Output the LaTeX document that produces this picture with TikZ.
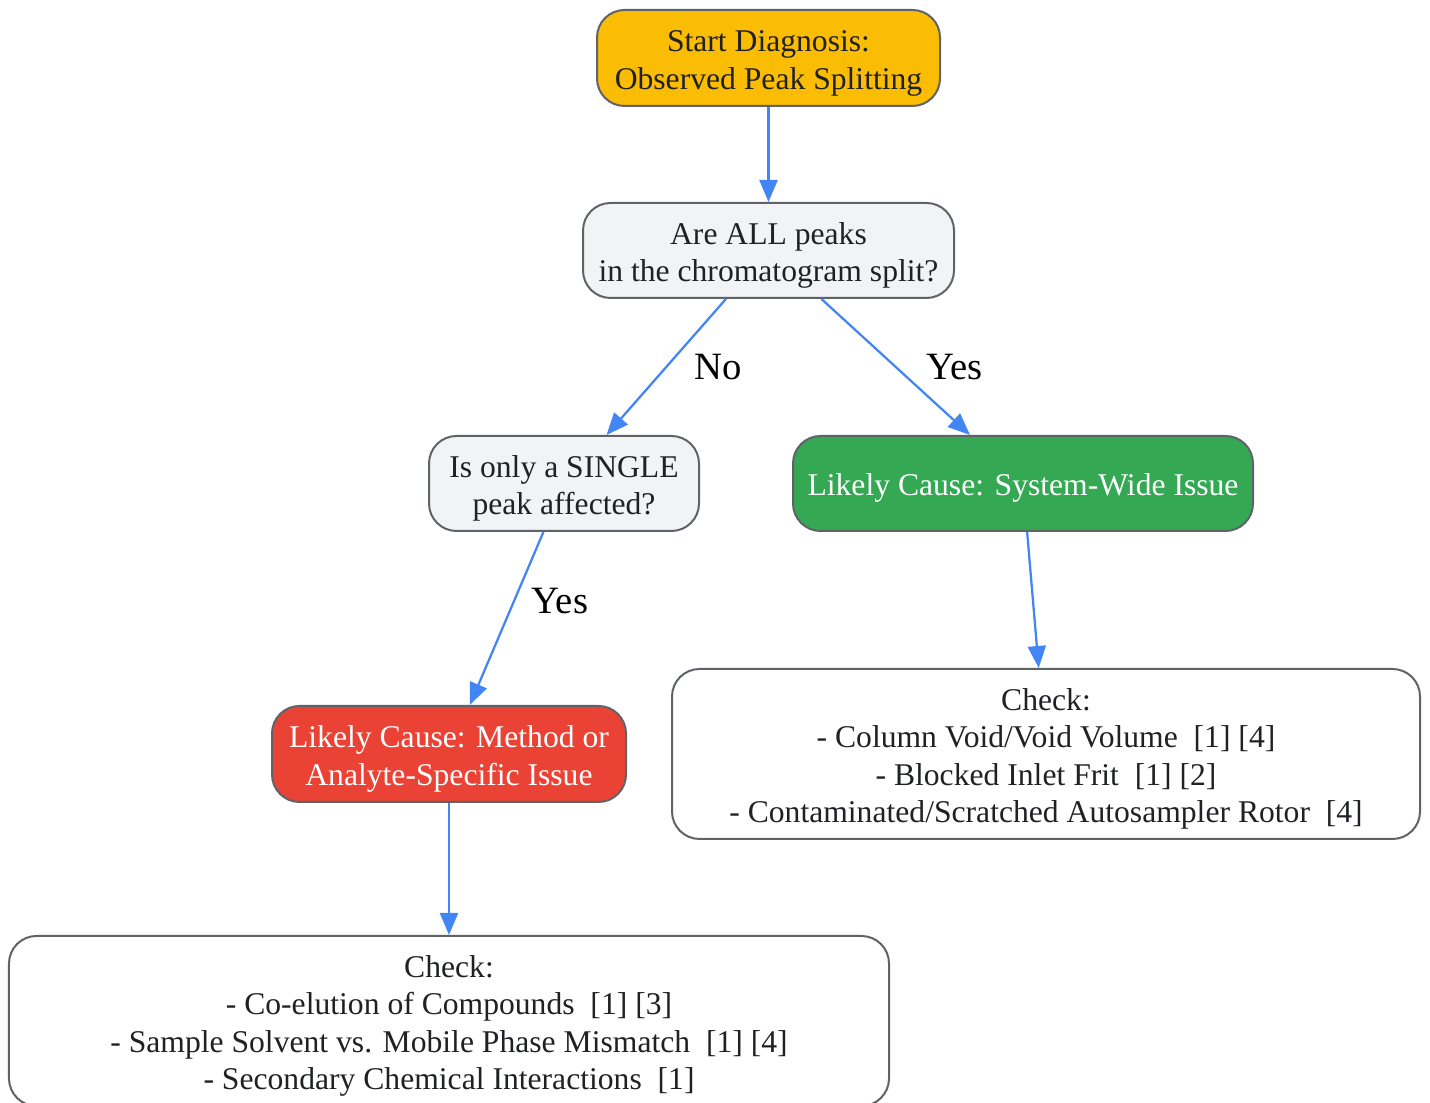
\documentclass[tikz,border=0pt]{standalone}
\usepackage{fontspec}
\setmainfont{Liberation Serif}
\usepackage{tikz}
\usetikzlibrary{positioning,arrows.meta}

\definecolor{startfill}{HTML}{FBBC04}
\definecolor{askfill}{HTML}{F1F3F4}
\definecolor{systemfill}{HTML}{34A853}
\definecolor{methodfill}{HTML}{EA4335}
\definecolor{boxline}{HTML}{5F6368}
\definecolor{textdark}{HTML}{202124}
\definecolor{arrowblue}{HTML}{4285F4}

% lines of a node, set a little lower than TeX would centre them
\newcommand{\nodelines}[1]{\raisebox{-2.8pt}[\height][\depth]{\begin{tabular}{@{}c@{}}#1\end{tabular}}}

\begin{document}
\begin{tikzpicture}[basenode/.style={rectangle, rounded corners=0.55cm, draw=boxline, line width=0.04cm, align=center, text=textdark, font=\fontsize{18}{21.4}\selectfont},
        startnode/.style={basenode, fill=startfill, minimum width=6.86cm, minimum height=1.92cm},
        asknode/.style={basenode, fill=askfill, minimum height=1.9cm},
        systemnode/.style={basenode, fill=systemfill, text=white, minimum width=9.2cm, minimum height=1.9cm},
        methodnode/.style={basenode, fill=methodfill, text=white, minimum width=7.08cm, minimum height=1.92cm},
        checknode/.style={basenode, fill=white, minimum height=3.4cm},
        arrowline/.style={draw=arrowblue, line width=0.045cm, -{Triangle[length=0.44cm, width=0.36cm]}},
        answer/.style={font=\fontsize{22}{26}\selectfont, text=black}]

        \useasboundingbox (0,0) rectangle (28.6,22.06);

        \node[startnode] (1) at (15.37,20.90) {\nodelines{Start Diagnosis:\\Observed Peak Splitting}};
        \node[asknode, minimum width=7.42cm] (2) [below=1.90cm of 1] {\nodelines{Are ALL peaks\\in the chromatogram split?}};
        \node[asknode, minimum width=5.4cm] (3) [below=2.72cm of 2, xshift=-4.09cm] {\nodelines{Is only a SINGLE\\peak affected?}};
        \node[systemnode] (4) [below=2.72cm of 2, xshift=5.09cm] {\nodelines{Likely Cause: System-Wide Issue}};
        \node[methodnode] (5) [below=3.46cm of 3, xshift=-2.3cm] {\nodelines{Likely Cause: Method or\\Analyte-Specific Issue}};
        \node[checknode, minimum width=14.96cm] (6) [below=2.72cm of 4, xshift=0.46cm] {\nodelines{Check:\\- Column Void/Void Volume~ [1] [4]\\- Blocked Inlet Frit~ [1] [2]\\- Contaminated/Scratched Autosampler Rotor~ [4]}};
        \node[checknode, minimum width=17.6cm] (7) [below=2.64cm of 5] {\nodelines{Check:\\- Co-elution of Compounds~ [1] [3]\\- Sample Solvent vs. Mobile Phase Mismatch~ [1] [4]\\- Secondary Chemical Interactions~ [1]}};

        \draw[arrowline] (1) -- (2);
        \draw[arrowline] (2) -- node[answer, pos=0.5, right=0.42cm] {No} (3);
        \draw[arrowline] (2) -- node[answer, pos=0.5, right=0.47cm] {Yes} (4);
        \draw[arrowline] (3) -- node[answer, pos=0.4, right=0.22cm] {Yes} (5);
        \draw[arrowline] (4) -- (6);
        \draw[arrowline] (5) -- (7);

        \end{tikzpicture}
\end{document}
